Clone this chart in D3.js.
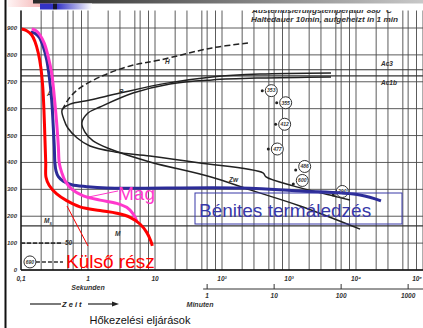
<!DOCTYPE html>
<html>
<head>
<meta charset="utf-8">
<script src="https://cdn.jsdelivr.net/npm/d3@7/dist/d3.min.js"></script>
<style>
  body { margin: 0; background: #fff; }
  svg { display: block; }
</style>
</head>
<body>
<div id="chart"></div>
<script>
// ---- data (time in s, temperature in °C) ----
const tempTicks = [0, 100, 200, 300, 400, 500, 600, 700, 800, 900];
const secTicks = [0.1, 1, 10, 100, 1000, 10000, 100000];
const secLabels = ['0,1', '1', '10', '10²', '10³', '10⁴', '10⁵'];
const minTicks = [1, 10, 100, 1000];
const minLabels = ['1', '10', '100', '1000'];
const gridSteps = [1, 2, 3, 5, 6, 8];
const acNames = ['Ac3', 'Ac1b'];
const acTemps = [745, 722];
const msTemp = 164;

// scanned transformation curves
const curveH = [[0.41, 595], [0.54, 643], [0.76, 677], [1.51, 718], [4.24, 759], [11.9, 781], [71, 826], [244, 844]];
const curveOuter = [[4240, 733], [369, 729], [71, 718], [15.1, 695], [3.0, 658], [1.07, 632], [0.54, 617], [0.41, 595],
  [0.44, 558], [0.50, 528], [0.69, 491], [1.07, 461], [2.53, 439], [8.4, 424], [47, 398], [409, 361], [454, 346],
  [1188, 312], [5390, 271], [8130, 260]];
const curveInner = [[4240, 718], [369, 714], [71, 707], [16.7, 692], [4.7, 658], [1.51, 606], [1.0, 584], [0.81, 547],
  [0.90, 513], [1.19, 480], [2.13, 450], [8.4, 402], [68.5, 346], [262, 298], [1460, 238], [11500, 152]];

// cooling curves drawn over the scan
const surface = [[0.1024, 896], [0.1216, 890], [0.1445, 874], [0.162, 849], [0.181, 807], [0.197, 756], [0.211, 682],
  [0.220, 595], [0.228, 483], [0.234, 398], [0.236, 345], [0.264, 314], [0.341, 283], [0.481, 258], [0.760, 235],
  [1.51, 221], [2.68, 211], [4.24, 196], [5.97, 171], [7.52, 140], [8.63, 109], [9.12, 90]];
const core = [[0.1445, 896], [0.1675, 890], [0.192, 874], [0.223, 843], [0.255, 793], [0.287, 732], [0.314, 645],
  [0.341, 546], [0.361, 459], [0.373, 397], [0.405, 363], [0.454, 332], [0.571, 301], [0.851, 276], [1.51, 260],
  [2.68, 248], [3.78, 233], [4.74, 208], [5.44, 177]];
const bainite = [[0.1396, 884], [0.162, 880], [0.1875, 865], [0.215, 830], [0.242, 781], [0.264, 719], [0.287, 632],
  [0.303, 533], [0.314, 459], [0.321, 397], [0.333, 369], [0.361, 347], [0.428, 330], [0.571, 317], [0.957, 310],
  [1.90, 305], [186, 305], [1460, 294], [11500, 279], [23600, 257]];
const corePointer = [[2.81, 294], [1.0, 271]];
const surfacePointer = [[1.0, 89], [0.486, 238]];

const hardnessVals = ['353', '355', '412', '477', '486', '600', '290'];
const hardnessPts = [[399, 667], [655, 622], [632, 542], [491, 450], [1259, 372], [1159, 320], [4580, 279]];
const martHardness = '690';
const martPoint = [0.136, 30];

// ---- layout ----
const width = 423, height = 328;
const topTemp = 965;

const svg = d3.select('#chart').append('svg')
  .attr('width', width)
  .attr('height', height);

const x = d3.scaleLog().domain([0.1, 1e5]).range([21, 423]);
const y = d3.scaleLinear().domain([0, 900]).range([270, 28]);
const xMin = m => x(m * 60);

const scanFont = "'Liberation Sans', Arial, sans-serif";

// header decoration
const defs = svg.append('defs');
const gGray = defs.append('linearGradient').attr('id', 'gGray');
gGray.append('stop').attr('offset', '0%').attr('stop-color', '#2a2a2a');
gGray.append('stop').attr('offset', '100%').attr('stop-color', '#c8c8c8');
const gPink = defs.append('linearGradient').attr('id', 'gPink');
gPink.append('stop').attr('offset', '0%').attr('stop-color', '#fff4f4');
gPink.append('stop').attr('offset', '100%').attr('stop-color', '#f2a6a6');
const gBlue = defs.append('linearGradient').attr('id', 'gBlue');
gBlue.append('stop').attr('offset', '0%').attr('stop-color', '#3434c8');
gBlue.append('stop').attr('offset', '100%').attr('stop-color', '#ffffff');
defs.append('clipPath').attr('id', 'hdrClip')
  .append('rect').attr('x', 0).attr('y', 10).attr('width', width).attr('height', 20);

svg.append('rect').attr('x', 8).attr('y', 0).attr('width', 43).attr('height', 7).attr('fill', 'url(#gPink)');
svg.append('rect').attr('x', 33).attr('y', 0).attr('width', 390).attr('height', 3.5).attr('fill', 'url(#gGray)');
svg.append('rect').attr('x', 40).attr('y', 3.5).attr('width', 13).attr('height', 6).attr('fill', '#3232c4');
svg.append('rect').attr('x', 53).attr('y', 3.5).attr('width', 4).attr('height', 6).attr('fill', '#151530');
svg.append('rect').attr('x', 57).attr('y', 3.5).attr('width', 35).attr('height', 6).attr('fill', 'url(#gBlue)');

// left border of the slide
svg.append('rect').attr('x', 4.5).attr('y', 0).attr('width', 2).attr('height', height).attr('fill', '#111');

// ---- grid ----
const g = svg.append('g');
const gridVals = [];
secTicks.slice(0, -1).forEach(d => gridSteps.forEach(s => gridVals.push(d * s)));
gridVals.push(1e5);

g.selectAll('.vgrid').data(gridVals).enter().append('line')
  .attr('class', 'vgrid')
  .attr('x1', d => x(d)).attr('x2', d => x(d))
  .attr('y1', y(topTemp)).attr('y2', y(0))
  .attr('stroke', '#4a4a4a').attr('stroke-width', 0.9);

g.selectAll('.hgrid').data(tempTicks).enter().append('line')
  .attr('class', 'hgrid')
  .attr('x1', x(0.1)).attr('x2', width)
  .attr('y1', d => y(d)).attr('y2', d => y(d))
  .attr('stroke', '#4a4a4a').attr('stroke-width', 0.9);

// Ac lines and Ms line
g.selectAll('.ac').data(acTemps).enter().append('line')
  .attr('x1', x(0.1)).attr('x2', width)
  .attr('y1', d => y(d)).attr('y2', d => y(d))
  .attr('stroke', '#333').attr('stroke-width', 1.1);
g.selectAll('.acl').data(acNames).enter().append('text')
  .attr('x', 381).attr('y', (d, i) => y(acTemps[i]) + (i === 0 ? -4 : 9))
  .style('font', `italic bold 6.5px ${scanFont}`).attr('fill', '#333')
  .text(d => d);

g.append('line')
  .attr('x1', x(0.1)).attr('x2', width)
  .attr('y1', y(msTemp)).attr('y2', y(msTemp))
  .attr('stroke', '#333').attr('stroke-width', 1.2);

// axes
g.append('line').attr('x1', x(0.1)).attr('x2', width).attr('y1', y(0)).attr('y2', y(0))
  .attr('stroke', '#111').attr('stroke-width', 1.6);
g.append('line').attr('x1', x(0.1)).attr('x2', x(0.1)).attr('y1', y(topTemp)).attr('y2', y(0))
  .attr('stroke', '#111').attr('stroke-width', 1.3);

g.selectAll('.ylab').data(tempTicks).enter().append('text')
  .attr('x', 17).attr('y', d => y(d) + 2)
  .attr('text-anchor', 'end')
  .style('font', `italic bold 6px ${scanFont}`).attr('fill', '#333')
  .text(d => d);

g.selectAll('.xlab').data(secTicks).enter().append('text')
  .attr('x', (d, i) => i === secTicks.length - 1 ? width - 1 : x(d)).attr('y', 281)
  .attr('text-anchor', (d, i) => i === secTicks.length - 1 ? 'end' : 'middle')
  .style('font', `italic bold 6.5px ${scanFont}`).attr('fill', '#333')
  .text((d, i) => secLabels[i]);

g.append('text').attr('x', x(1)).attr('y', 290).attr('text-anchor', 'middle')
  .style('font', `italic bold 7px ${scanFont}`).attr('fill', '#333').text('Sekunden');

// minute axis
g.append('line').attr('x1', xMin(1) - 4).attr('x2', width).attr('y1', 289).attr('y2', 289)
  .attr('stroke', '#333').attr('stroke-width', 1);
g.selectAll('.mtick').data(minTicks).enter().append('line')
  .attr('x1', d => xMin(d)).attr('x2', d => xMin(d)).attr('y1', 284).attr('y2', 289)
  .attr('stroke', '#333').attr('stroke-width', 1);
g.selectAll('.mlab').data(minTicks).enter().append('text')
  .attr('x', d => xMin(d)).attr('y', 298).attr('text-anchor', 'middle')
  .style('font', `italic bold 6.5px ${scanFont}`).attr('fill', '#333')
  .text((d, i) => minLabels[i]);
g.append('text').attr('x', 200).attr('y', 307).attr('text-anchor', 'middle')
  .style('font', `italic bold 7px ${scanFont}`).attr('fill', '#333').text('Minuten');

// Zeit arrow
g.append('line').attr('x1', 30).attr('x2', 61).attr('y1', 304).attr('y2', 304).attr('stroke', '#222').attr('stroke-width', 1.2);
g.append('text').attr('x', 62).attr('y', 307)
  .style('font', `italic bold 7.5px ${scanFont}`).attr('fill', '#222').text('Z e i t');
g.append('line').attr('x1', 88).attr('x2', 113).attr('y1', 304).attr('y2', 304).attr('stroke', '#222').attr('stroke-width', 1.2);
g.append('path').attr('d', 'M112,301.5 L119,304 L112,306.5 Z').attr('fill', '#222');

// header of the scan
const hdr = g.append('g').attr('clip-path', 'url(#hdrClip)')
  .style('font', `italic bold 7.5px ${scanFont}`).attr('fill', '#333');
hdr.append('text').attr('x', 252).attr('y', 13).attr('textLength', 140).attr('lengthAdjust', 'spacingAndGlyphs')
  .text('Austenitisierungstemperatur 880 °C');
hdr.append('text').attr('x', 251).attr('y', 22).attr('textLength', 147).attr('lengthAdjust', 'spacingAndGlyphs')
  .text('Haltedauer 10min, aufgeheizt in 1 min');

// ---- scanned curves ----
const line = d3.line()
  .x(d => x(d[0]))
  .y(d => y(d[1]))
  .curve(d3.curveCatmullRom.alpha(0.5));

g.append('path').attr('d', line(curveH))
  .attr('fill', 'none').attr('stroke', '#222').attr('stroke-width', 1.5).attr('stroke-dasharray', '6,3');
g.append('path').attr('d', line(curveOuter))
  .attr('fill', 'none').attr('stroke', '#222').attr('stroke-width', 1.5);
g.append('path').attr('d', line(curveInner))
  .attr('fill', 'none').attr('stroke', '#222').attr('stroke-width', 1.5);

// small labels of the scan
const small = [['H', 165, 64], ['P', 119, 94], ['A', 47, 96], ['Zw', 229, 182], ['M', 115, 236], ['50', 65, 245]];
g.selectAll('.slab').data(small).enter().append('text')
  .attr('x', d => d[1]).attr('y', d => d[2])
  .style('font', `italic bold 6.5px ${scanFont}`).attr('fill', '#333')
  .text(d => d[0]);
const ms = g.append('text').attr('x', 44).attr('y', 223)
  .style('font', `italic bold 6.5px ${scanFont}`).attr('fill', '#333');
ms.append('tspan').text('M');
ms.append('tspan').attr('dy', 2).style('font-size', '4.5px').text('s');

// dashed martensite marks
g.append('line').attr('x1', x(0.1)).attr('x2', 63).attr('y1', y(100)).attr('y2', y(100))
  .attr('stroke', '#333').attr('stroke-width', 1.6).attr('stroke-dasharray', '4,2');
g.append('line').attr('x1', x(martPoint[0]) + 6).attr('x2', 63).attr('y1', y(martPoint[1])).attr('y2', y(martPoint[1]))
  .attr('stroke', '#333').attr('stroke-width', 1.4).attr('stroke-dasharray', '4,2');
g.append('circle').attr('cx', x(martPoint[0])).attr('cy', y(martPoint[1])).attr('r', 6)
  .attr('fill', '#fff').attr('stroke', '#333').attr('stroke-width', 1);
g.append('text').attr('x', x(martPoint[0])).attr('y', y(martPoint[1]) + 1.8).attr('text-anchor', 'middle')
  .style('font', `italic bold 5px ${scanFont}`).attr('fill', '#333').text(martHardness);

// hardness circles
const hg = g.selectAll('.hard').data(hardnessPts).enter().append('g');
hg.append('circle').attr('cx', d => x(d[0])).attr('cy', d => y(d[1])).attr('r', 1.5).attr('fill', '#222');
hg.append('circle')
  .attr('cx', d => x(d[0]) + 9).attr('cy', (d, i) => y(d[1]) - (i >= 4 ? 3.5 : 0)).attr('r', 6)
  .attr('fill', '#fff').attr('stroke', '#333').attr('stroke-width', 1);
hg.append('text')
  .attr('x', d => x(d[0]) + 9).attr('y', (d, i) => y(d[1]) - (i >= 4 ? 3.5 : 0) + 1.8)
  .attr('text-anchor', 'middle')
  .style('font', `italic bold 5px ${scanFont}`).attr('fill', '#333')
  .text((d, i) => hardnessVals[i]);

// ---- coloured overlays ----
const slideFont = "'Liberation Sans', Arial, sans-serif";

g.append('path').attr('d', line(bainite))
  .attr('fill', 'none').attr('stroke', '#2c2c98').attr('stroke-width', 3);
g.append('path').attr('d', line(core))
  .attr('fill', 'none').attr('stroke', '#ff38cc').attr('stroke-width', 3);
g.append('path').attr('d', line(surface))
  .attr('fill', 'none').attr('stroke', '#ff0000').attr('stroke-width', 3);

g.append('path').attr('d', d3.line().x(d => x(d[0])).y(d => y(d[1]))(corePointer))
  .attr('stroke', '#ff38cc').attr('stroke-width', 1);
g.append('path').attr('d', d3.line().x(d => x(d[0])).y(d => y(d[1]))(surfacePointer))
  .attr('stroke', '#ff0000').attr('stroke-width', 1);

g.append('text').attr('x', 118).attr('y', 200)
  .style('font', `19px ${slideFont}`).attr('fill', '#ff38cc').text('Mag');
g.append('text').attr('x', 66).attr('y', 268)
  .style('font', `19px ${slideFont}`).attr('fill', '#ff0000').text('Külső rész');

g.append('rect').attr('x', 195).attr('y', 193).attr('width', 207).attr('height', 31)
  .attr('fill', 'none').attr('stroke', '#3838a8').attr('stroke-width', 1);
g.append('text').attr('x', 199).attr('y', 217)
  .style('font', `19px ${slideFont}`).attr('fill', '#3838a8').text('Bénites termáledzés');

// slide caption
svg.append('text').attr('x', 140).attr('y', 324).attr('text-anchor', 'middle')
  .style('font', `11px ${slideFont}`).attr('fill', '#111').text('Hőkezelési eljárások');
</script>
</body>
</html>
